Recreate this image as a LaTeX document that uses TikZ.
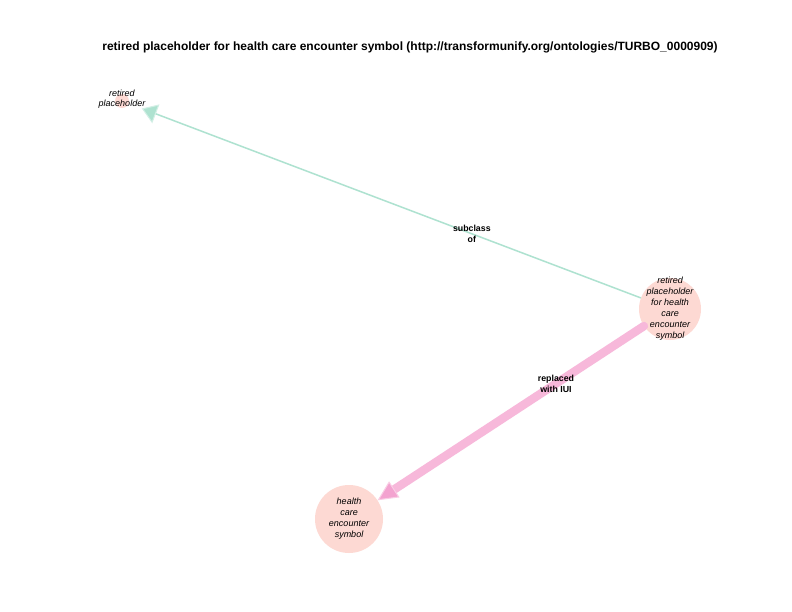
\documentclass[tikz,border=0pt]{standalone}
\usepackage{fontspec}
\setmainfont{Liberation Sans}
\usetikzlibrary{arrows.meta}
\definecolor{nodefill}{HTML}{FDD9D3}
\definecolor{subteal}{HTML}{AEE2D0}
\definecolor{replpink}{HTML}{F7B8DA}
\definecolor{replhead}{HTML}{F08CC4}

\begin{document}
\begin{tikzpicture}[x=1pt,y=-1pt]
  \useasboundingbox[fill=white] (0,0) rectangle (792,612);
  \tikzset{
    term/.style={circle,fill=nodefill,inner sep=0pt},
    termtext/.style={font=\fontsize{9}{11}\selectfont\itshape,align=center},
    edgelabel/.style={font=\fontsize{8.8}{11}\selectfont\bfseries,align=center}
  }
  \node[font=\fontsize{12}{14}\selectfont\bfseries] (title) at (410,47)
    {retired placeholder for health care encounter symbol (http://transformunify.org/ontologies/TURBO\_0000909)};
  \node[term,minimum size=14pt] (retired) at (122,101) {};
  \node[termtext,font=\fontsize{9}{10}\selectfont\itshape] (retiredtext) at (122,99) {retired\\placeholder};
  \node[term,minimum size=62pt] (rphce) at (670,309) {};
  \node[termtext] (rphcetext) at (670,309) {retired\\placeholder\\for health\\care\\encounter\\symbol};
  \node[term,minimum size=68pt] (hce) at (349,519) {};
  \node[termtext] (hcetext) at (349,519) {health\\care\\encounter\\symbol};
  % edges
  \draw[subteal,line width=1.5pt,shorten >=14pt,
    -{Triangle[length=15pt,width=20pt,line width=1pt,fill=subteal,color=subteal!55]}]
    (rphce) -- node[edgelabel,text=black,pos=0.33] (sublabel) {subclass\\of} (retired);
  \draw[replpink,line width=8.5pt,line cap=round,
    -{Triangle[length=20pt,width=19pt,line width=1pt,fill=replhead!80,color=replpink!70]}]
    (rphce) -- node[edgelabel,text=black,pos=0.33] (repllabel) {replaced\\with IUI} (hce);
\end{tikzpicture}
\end{document}
